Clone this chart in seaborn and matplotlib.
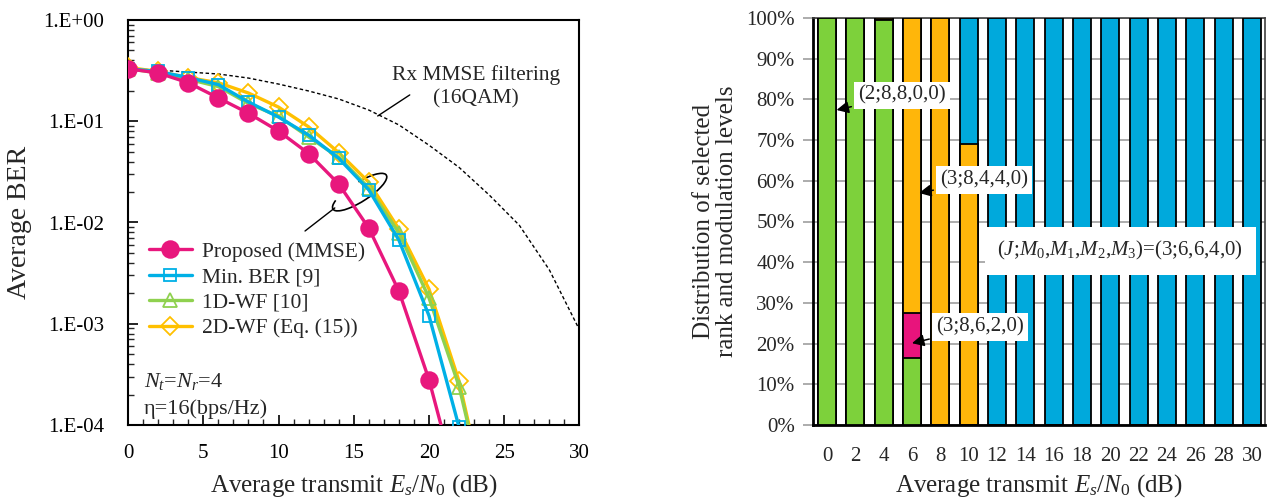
import numpy as np
import pandas as pd
import matplotlib
matplotlib.use('Agg')
import matplotlib.pyplot as plt
import seaborn as sns
from matplotlib.patches import Arc
from matplotlib.ticker import FixedLocator, LogLocator, NullFormatter, MultipleLocator, FuncFormatter

# --- data: BER curves (left) ---
snr_22 = [0, 2, 4, 6, 8, 10, 12, 14, 16, 18, 20, 22]
snr_24 = [0, 2, 4, 6, 8, 10, 12, 14, 16, 18, 20, 22, 24]
snr_30 = [0, 2, 4, 6, 8, 10, 12, 14, 16, 18, 20, 22, 24, 26, 28, 30]

ber_proposed = [0.33, 0.30, 0.24, 0.17, 0.12, 0.080, 0.048, 0.024, 0.0088, 0.0021, 0.00028, 0.000021]
ber_minber = [0.33, 0.31, 0.27, 0.23, 0.155, 0.11, 0.073, 0.043, 0.021, 0.0067, 0.0012, 0.000095]
ber_1dwf = [0.33, 0.30, 0.26, 0.22, 0.15, 0.112, 0.07, 0.044, 0.022, 0.0079, 0.0018, 0.00024, 0.000013]
ber_2dwf = [0.34, 0.31, 0.27, 0.24, 0.19, 0.138, 0.088, 0.049, 0.025, 0.0086, 0.0022, 0.00027, 0.000013]
ber_rx_mmse = [0.33, 0.32, 0.306, 0.293, 0.267, 0.233, 0.199, 0.166, 0.129, 0.092,
               0.058, 0.035, 0.0187, 0.0094, 0.0034, 0.00087]

# --- data: rank / modulation distribution (right) ---
snr_bar = ['0', '2', '4', '6', '8', '10', '12', '14', '16', '18', '20', '22', '24', '26', '28', '30']
share_2_8800 = [100, 100, 99.6, 16.5, 0, 0, 0, 0, 0, 0, 0, 0, 0, 0, 0, 0]
share_3_8620 = [0, 0, 0, 11.0, 0, 0, 0, 0, 0, 0, 0, 0, 0, 0, 0, 0]
share_3_8440 = [0, 0, 0.4, 72.5, 100, 69, 0, 0, 0, 0, 0, 0, 0, 0, 0, 0]
share_3_6640 = [0, 0, 0, 0, 0, 31, 100, 100, 100, 100, 100, 100, 100, 100, 100, 100]

sns.set_theme(style='white')
plt.rcParams['font.family'] = ['Liberation Serif', 'DejaVu Serif']
plt.rcParams['mathtext.fontset'] = 'custom'
plt.rcParams['mathtext.rm'] = 'Liberation Serif'
plt.rcParams['mathtext.it'] = 'Liberation Serif:italic'

fig = plt.figure(figsize=(12.68, 5.0), dpi=100)
ax1 = fig.add_axes([0.101, 0.15, 0.356, 0.81])
ax2 = fig.add_axes([0.641, 0.15, 0.3565, 0.814])

TICK_FS = 15
LABEL_FS = 18

# --- 1. BER curves ---
sns.lineplot(x=snr_30, y=ber_rx_mmse, ax=ax1, color='black', lw=1.0,
             linestyle=(0, (2.5, 1.8)), zorder=2)
series = [
    (snr_24, ber_2dwf, '#ffc000', 'D', 'none', 9, '2D-WF (Eq. (15))'),
    (snr_24, ber_1dwf, '#8fd14f', '^', 'none', 10, '1D-WF [10]'),
    (snr_22, ber_minber, '#00b0e6', 's', 'none', 9, 'Min. BER [9]'),
    (snr_22, ber_proposed, '#e8177d', 'o', '#e8177d', 12, 'Proposed (MMSE)'),
]
for xs, ys, col, mk, mfc, ms, lab in series:
    sns.lineplot(x=xs, y=ys, ax=ax1, color=col, lw=2.4, marker=mk, markersize=ms,
                 markerfacecolor=mfc, markeredgecolor=col, markeredgewidth=1.3,
                 label=lab, zorder=3)

ax1.set_yscale('log')
ax1.set_xlim(0, 30)
ax1.set_ylim(1e-4, 1)
ax1.xaxis.set_major_locator(MultipleLocator(5))
ax1.xaxis.set_minor_locator(MultipleLocator(1))
ax1.yaxis.set_major_locator(FixedLocator([1e-4, 1e-3, 1e-2, 1e-1, 1]))
ax1.yaxis.set_minor_locator(LogLocator(base=10, subs=np.arange(2, 10)))
ax1.yaxis.set_minor_formatter(NullFormatter())
ax1.yaxis.set_major_formatter(FuncFormatter(lambda v, p: '1.E%+03d' % int(round(np.log10(v)))))
ax1.tick_params(axis='both', which='major', direction='in', length=7, width=1.2,
                labelsize=TICK_FS, colors='black')
ax1.tick_params(axis='both', which='minor', direction='in', length=4, width=1.0)
ax1.tick_params(axis='y', which='both', left=True, pad=17)
ax1.tick_params(axis='x', which='both', bottom=True, pad=14)
for s in ax1.spines.values():
    s.set_color('black')
    s.set_linewidth(1.5)
ax1.set_xlabel(r'Average transmit $E_s$/$N_0$ (dB)', fontsize=LABEL_FS, labelpad=6)
ax1.set_ylabel('Average BER', fontsize=LABEL_FS + 2, labelpad=8)

handles, labels = ax1.get_legend_handles_labels()
order = [3, 2, 1, 0]
ax1.legend([handles[i] for i in order], [labels[i] for i in order],
           loc='upper left', bbox_to_anchor=(0.012, 0.49), frameon=False,
           fontsize=TICK_FS + 0.5, handlelength=2.0, handletextpad=0.5,
           labelspacing=0.25, borderaxespad=0.3)

ax1.text(0.77, 0.835, 'Rx MMSE filtering\n(16QAM)', transform=ax1.transAxes,
         ha='center', va='center', fontsize=TICK_FS + 0.5, linespacing=1.3)
ax1.plot([0.553, 0.624], [0.763, 0.815], transform=ax1.transAxes, color='black', lw=1.0)
ax1.add_patch(Arc((0.513, 0.575), 0.145, 0.045, angle=36, theta1=165, theta2=60,
                  transform=ax1.transAxes, color='black', lw=1.2))
ax1.plot([0.392, 0.458], [0.479, 0.536], transform=ax1.transAxes, color='black', lw=1.0)
ax1.text(0.035, 0.108, r'$N_t$=$N_r$=4', transform=ax1.transAxes, fontsize=TICK_FS + 1,
         ha='left', va='center')
ax1.text(0.035, 0.04, 'η=16(bps/Hz)', transform=ax1.transAxes, fontsize=TICK_FS + 1,
         ha='left', va='center')

# --- 2. Stacked distribution bars (cumulative layers, top first) ---
c_green = np.array(share_2_8800)
c_pink = c_green + np.array(share_3_8620)
c_orange = c_pink + np.array(share_3_8440)
c_blue = c_orange + np.array(share_3_6640)

layers = [(c_blue, '#00a9dc'), (c_orange, '#ffb60a'), (c_pink, '#e8147c'), (c_green, '#7dd13b')]
for cum, col in layers:
    sns.barplot(x=snr_bar, y=cum, order=snr_bar, ax=ax2, color=col, saturation=1,
                width=0.63, edgecolor='black', linewidth=1.3, errorbar=None, zorder=3)

ax2.set_xlim(-0.5, 15.45)
ax2.set_ylim(0, 100)
ax2.yaxis.set_major_locator(MultipleLocator(10))
ax2.yaxis.set_major_formatter(FuncFormatter(lambda v, p: '%d%%' % v))
ax2.set_axisbelow(True)
ax2.grid(axis='y', color='#a6a6a6', lw=1.3)
ax2.grid(axis='x', visible=False)
ax2.tick_params(axis='y', left=True, length=7, width=1.3, color='#a6a6a6',
                direction='out', labelsize=TICK_FS, pad=6)
ax2.tick_params(axis='x', bottom=False, labelsize=TICK_FS, pad=10)
ax2.spines['left'].set_color('black')
ax2.spines['left'].set_linewidth(2.0)
ax2.spines['bottom'].set_color('black')
ax2.spines['bottom'].set_linewidth(2.0)
ax2.spines['top'].set_color('#404040')
ax2.spines['right'].set_color('#404040')
ax2.spines['top'].set_linewidth(1.2)
ax2.spines['right'].set_linewidth(1.2)
ax2.set_xlabel(r'Average transmit $E_s$/$N_0$ (dB)', fontsize=LABEL_FS, labelpad=4)
ax2.set_ylabel('Distribution of selected\nrank and modulation levels',
               fontsize=LABEL_FS, labelpad=6, linespacing=1.05)

arrow = dict(arrowstyle='-|>', color='black', lw=1.1, shrinkA=2, shrinkB=0,
             mutation_scale=18)
box = dict(boxstyle='square,pad=0.2', fc='white', ec='none')
ax2.annotate('(2;8,8,0,0)', xy=(0.34, 77.4), xytext=(2.65, 81), fontsize=TICK_FS,
             ha='center', va='center', arrowprops=arrow, bbox=box, zorder=5)
ax2.annotate('(3;8,4,4,0)', xy=(3.25, 57), xytext=(5.55, 60.2), fontsize=TICK_FS,
             ha='center', va='center', arrowprops=arrow, bbox=box, zorder=5)
ax2.annotate('(3;8,6,2,0)', xy=(3.0, 20.1), xytext=(5.4, 24.1), fontsize=TICK_FS,
             ha='center', va='center', arrowprops=arrow, bbox=box, zorder=5)
ax2.text(10.35, 42.8, r'($J$;$M_0$,$M_1$,$M_2$,$M_3$)=(3;6,6,4,0)', fontsize=TICK_FS,
         ha='center', va='center', zorder=5,
         bbox=dict(boxstyle='square,pad=0.6', fc='white', ec='none'))

fig.savefig('out.png', dpi=100)
